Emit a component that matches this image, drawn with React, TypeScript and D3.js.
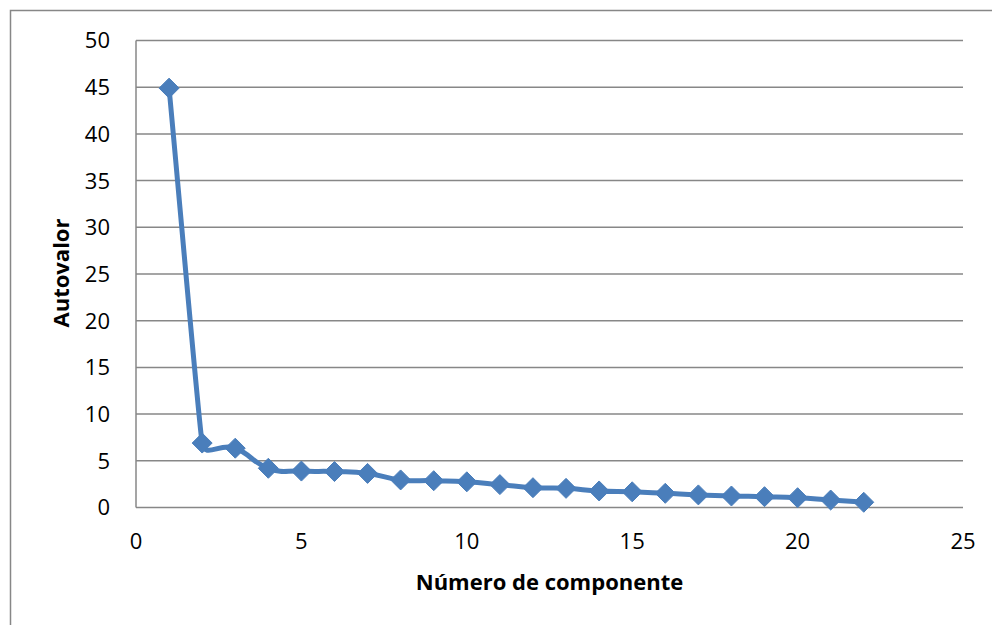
import React from "react";
import * as d3 from "d3";

const components = [1,2,3,4,5,6,7,8,9,10,11,12,13,14,15,16,17,18,19,20,21,22];
const eigenvalues = [44.9,6.9,6.35,4.2,3.9,3.85,3.65,2.95,2.87,2.75,2.45,2.12,2.05,1.77,1.68,1.52,1.35,1.23,1.16,1.05,0.8,0.56];
const xTicks = [0,5,10,15,20,25];
const yTicks = [0,5,10,15,20,25,30,35,40,45,50];
const xTitle = "Número de componente";
const yTitle = "Autovalor";

// Excel-like smoothing: tangent along neighbours, length limited by shorter adjacent segment
function smoothPath(pts: [number, number][]) {
  const p = d3.path();
  const n = pts.length;
  const dist = (a: [number, number], b: [number, number]) => Math.hypot(b[0] - a[0], b[1] - a[1]);
  const tang = pts.map((pt, i) => {
    const a = pts[Math.max(0, i - 1)];
    const b = pts[Math.min(n - 1, i + 1)];
    const dx = b[0] - a[0], dy = b[1] - a[1];
    const l = Math.hypot(dx, dy) || 1;
    let L: number;
    if (i === 0) L = dist(pts[0], pts[1]) / 3;
    else if (i === n - 1) L = dist(pts[n - 2], pts[n - 1]) / 3;
    else L = Math.min(dist(pts[i - 1], pt), dist(pt, pts[i + 1])) * 0.5;
    return [dx / l * L, dy / l * L];
  });
  p.moveTo(pts[0][0], pts[0][1]);
  for (let i = 0; i < n - 1; i++) {
    const a = pts[i], b = pts[i + 1];
    p.bezierCurveTo(a[0] + tang[i][0], a[1] + tang[i][1], b[0] - tang[i + 1][0], b[1] - tang[i + 1][1], b[0], b[1]);
  }
  return p.toString();
}

export default function App() {
  const W = 992, H = 625;
  const x = d3.scaleLinear().domain([0, 25]).range([136, 963]);
  const y = d3.scaleLinear().domain([0, 50]).range([507.5, 40.5]);
  const pts = components.map((c, i) => [x(c), y(eigenvalues[i])] as [number, number]);
  const line = smoothPath(pts);
  const font = "'Open Sans', sans-serif";
  const blue = "#4A7EBB";
  const grid = "#878787";
  const d = 10;
  return (
    <svg width={W} height={H} style={{ position: "absolute", left: 0, top: 0, background: "#fff" }}>
      <rect x={10.5} y={10.5} width={W + 10} height={H + 10} fill="none" stroke={grid} strokeWidth={1.5} />
      {yTicks.map(t => (
        <g key={t}>
          <line x1={x(0)} x2={x(25)} y1={y(t)} y2={y(t)} stroke={grid} strokeWidth={1.5} />
          <text x={110} y={y(t)} dy="0.36em" textAnchor="end" fontFamily={font} fontSize={22} fill="#000">{t}</text>
        </g>
      ))}
      <line x1={x(0)} x2={x(0)} y1={y(50)} y2={y(0)} stroke={grid} strokeWidth={1.5} />
      {xTicks.map(t => (
        <text key={t} x={x(t)} y={541} dy="0.36em" textAnchor="middle" fontFamily={font} fontSize={22} fill="#000">{t}</text>
      ))}
      <text x={(x(0) + x(25)) / 2} y={582} dy="0.36em" textAnchor="middle" fontFamily={font} fontSize={22} fontWeight="bold" fill="#000">{xTitle}</text>
      <text transform={`translate(61,273) rotate(-90)`} dy="0.36em" textAnchor="middle" fontFamily={font} fontSize={22} fontWeight="bold" fill="#000">{yTitle}</text>
      <path d={line} fill="none" stroke={blue} strokeWidth={5} strokeLinejoin="round" strokeLinecap="round" />
      {pts.map(([px, py], i) => (
        <path key={i} d={`M${px},${py - d}L${px + d},${py}L${px},${py + d}L${px - d},${py}Z`} fill={blue} stroke={blue} strokeWidth={1} strokeLinejoin="round" />
      ))}
    </svg>
  );
}
